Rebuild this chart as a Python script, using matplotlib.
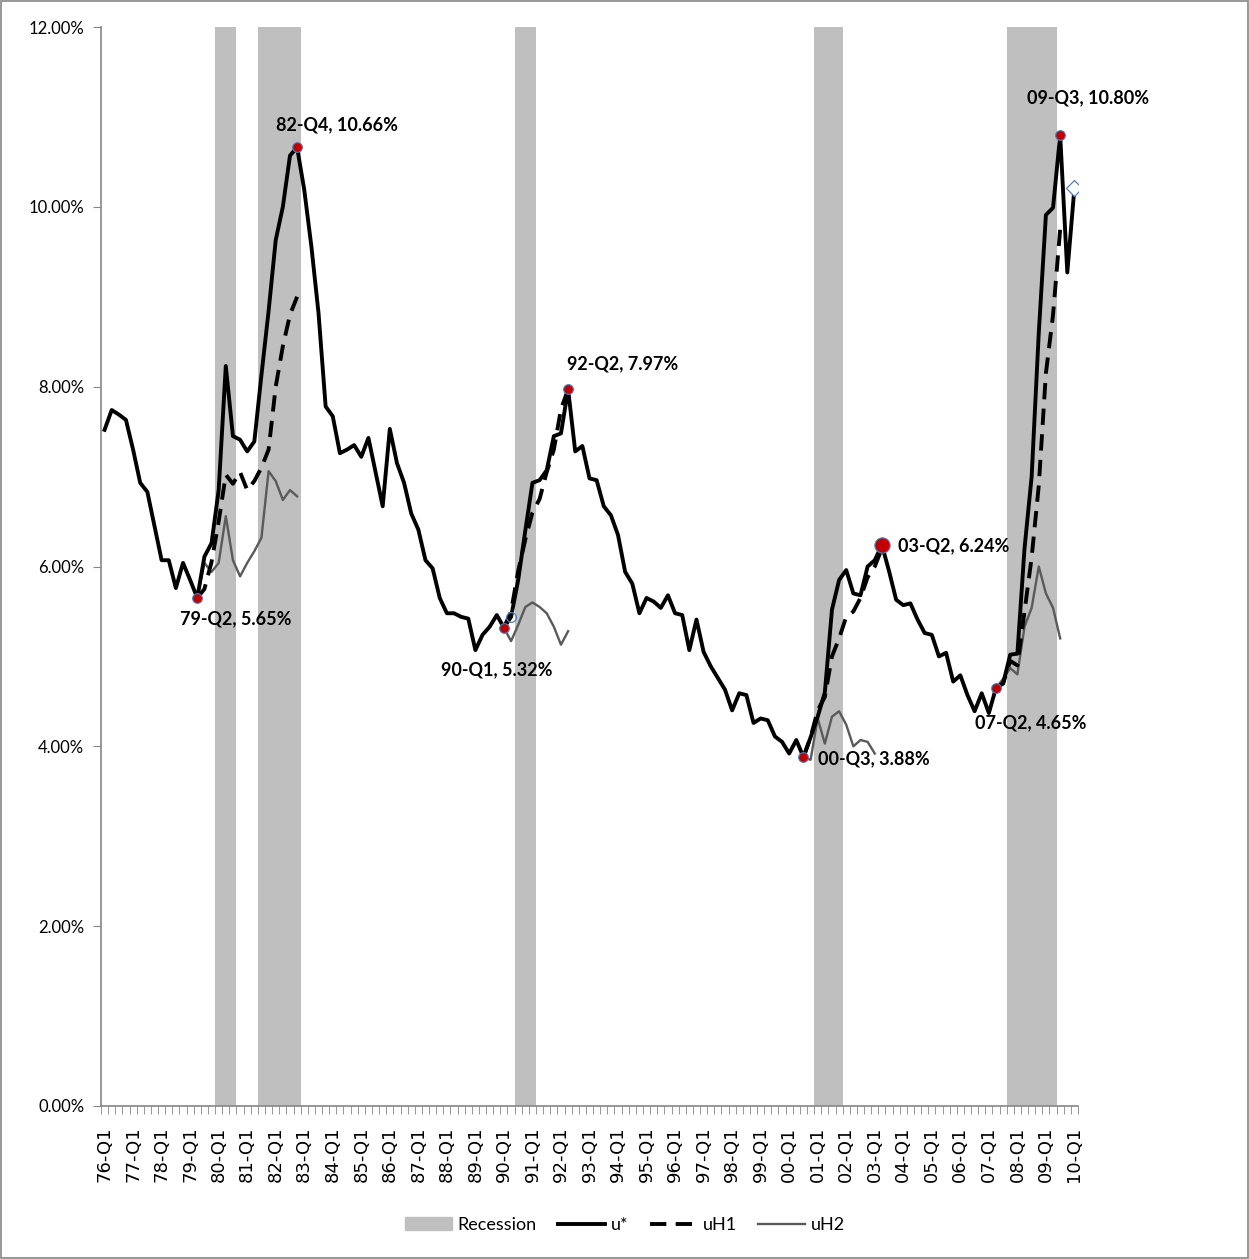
import numpy as np
import matplotlib
matplotlib.use('Agg')
import matplotlib.pyplot as plt
from matplotlib.patches import Patch, Rectangle
from matplotlib.lines import Line2D

# quarters 76-Q1 .. 10-Q1
years = list(range(1976, 2011))
quarters = [f"{y % 100:02d}-Q{q}" for y in years for q in range(1, 5)][:137]

u_star = [7.52, 7.74, 7.69, 7.63, 7.30, 6.93, 6.83, 6.45, 6.07, 6.07, 5.76, 6.04, 5.85, 5.65,
          6.11, 6.26, 6.85, 8.23, 7.45, 7.41, 7.28, 7.39, 8.13, 8.84, 9.63, 10.00, 10.57, 10.66,
          10.19, 9.56, 8.82, 7.78, 7.67, 7.26, 7.30, 7.35, 7.22, 7.43, 7.05, 6.67, 7.53, 7.15,
          6.93, 6.59, 6.41, 6.07, 5.98, 5.65, 5.48, 5.48, 5.44, 5.42, 5.07, 5.24, 5.33, 5.46,
          5.32, 5.44, 5.85, 6.40, 6.93, 6.96, 7.07, 7.45, 7.48, 7.97, 7.28, 7.34, 6.98, 6.96,
          6.67, 6.57, 6.35, 5.94, 5.81, 5.48, 5.65, 5.61, 5.54, 5.68, 5.48, 5.46, 5.07, 5.41,
          5.05, 4.89, 4.76, 4.63, 4.40, 4.59, 4.57, 4.26, 4.31, 4.29, 4.11, 4.05, 3.92, 4.07,
          3.88, 4.10, 4.33, 4.60, 5.52, 5.85, 5.96, 5.70, 5.68, 6.00, 6.07, 6.24, 5.95, 5.63,
          5.57, 5.59, 5.41, 5.26, 5.24, 5.00, 5.04, 4.72, 4.79, 4.57, 4.39, 4.59, 4.37, 4.65,
          4.70, 5.02, 5.03, 6.20, 7.00, 8.60, 9.91, 9.99, 10.80, 9.27, 10.21]

# uH1 / uH2 start at each trough
uh1_79 = [5.65, 5.75, 6.05, 6.50, 7.02, 6.92, 7.05, 6.85, 6.95, 7.10, 7.30, 8.00, 8.45, 8.80, 9.00]
uh1_90 = [5.32, 5.50, 5.95, 6.30, 6.60, 6.75, 7.05, 7.30, 7.75, 7.97]
uh1_00 = [3.88, 4.10, 4.40, 4.55, 5.00, 5.20, 5.44, 5.50, 5.65, 5.88, 6.00, 6.20]
uh1_07 = [4.65, 4.70, 4.95, 4.90, 5.50, 6.10, 6.90, 8.15, 8.80, 9.75]
uh2_79 = [5.65, 6.04, 5.94, 6.04, 6.56, 6.07, 5.89, 6.04, 6.17, 6.32, 7.06, 6.95, 6.74, 6.85, 6.78]
uh2_90 = [5.32, 5.17, 5.35, 5.55, 5.60, 5.55, 5.48, 5.33, 5.13, 5.28]
uh2_00 = [3.88, 3.85, 4.31, 4.03, 4.33, 4.39, 4.24, 4.00, 4.07, 4.05, 3.92]
uh2_07 = [4.65, 4.75, 4.87, 4.80, 5.33, 5.54, 6.00, 5.70, 5.54, 5.20]
uh1_segments = [("79-Q2", uh1_79), ("90-Q1", uh1_90), ("00-Q3", uh1_00), ("07-Q2", uh1_07)]
uh2_segments = [("79-Q2", uh2_79), ("90-Q1", uh2_90), ("00-Q3", uh2_00), ("07-Q2", uh2_07)]

recessions = [("80-Q1", "80-Q3"), ("81-Q3", "82-Q4"), ("90-Q3", "91-Q1"),
              ("01-Q1", "01-Q4"), ("07-Q4", "09-Q2")]

# labelled turning points: quarter, offset in pixels, alignment, big marker
turns = [("79-Q2", (38, -21), 'center', False), ("82-Q4", (40, 23), 'center', False),
         ("90-Q1", (-7, -42), 'center', False), ("92-Q2", (-1, 26), 'left', False),
         ("00-Q3", (15, -2), 'left', False), ("03-Q2", (16, -1), 'left', True),
         ("07-Q2", (35, -35), 'center', False), ("09-Q3", (-33, 37), 'left', False)]

idx = {q: i for i, q in enumerate(quarters)}
x = np.arange(len(quarters))
fam = ['Lato', 'DejaVu Sans']

fig = plt.figure(figsize=(12.49, 12.59), dpi=100)
ax = fig.add_axes([101 / 1249, 1 - 1106 / 1259, 977 / 1249, 1079 / 1259])

for a, b in recessions:
    ax.axvspan(idx[a] - 0.5, idx[b] + 0.5, color='#BFBFBF', lw=0, zorder=1)

for start, vals in uh2_segments:
    s = idx[start]
    ax.plot(x[s:s + len(vals)], vals, color='#5A5A5A', lw=1.7, zorder=2)
for start, vals in uh1_segments:
    s = idx[start]
    ax.plot(x[s:s + len(vals)], vals, color='black', lw=2.8, dashes=(4.2, 2.4), zorder=3)
ax.plot(x, u_star, color='black', lw=2.8, zorder=4)

for q, off, ha, big in turns:
    i = idx[q]
    ax.plot(i, u_star[i], 'o', ms=11 if big else 7, mfc='#C00000', mec='#4F81BD', mew=0.8, zorder=6)
    ax.annotate(f"{q}, {u_star[i]:.2f}%", (i, u_star[i]), xytext=off, textcoords='offset pixels',
                ha=ha, va='center', fontsize=13, fontweight='bold', family=fam, zorder=7)

ax.plot(idx["90-Q2"], u_star[idx["90-Q2"]], 'o', ms=7, mfc='none', mec='#4F81BD', mew=0.9, zorder=6)
ax.plot(x[-1], u_star[-1], 'D', ms=8, mfc='white', mec='#4F81BD', mew=0.9, zorder=6)

ax.set_xlim(-0.5, len(quarters) - 0.5)
ax.set_ylim(0, 12)
ax.set_yticks(np.arange(0, 12.1, 2))
ax.set_yticklabels([f"{v:.2f}%" for v in np.arange(0, 12.1, 2)], fontsize=12, family=fam)
ax.set_xticks(x[::4])
ax.set_xticklabels(quarters[::4], rotation=90, fontsize=13)
ax.set_xticks(np.arange(-0.5, len(quarters), 1), minor=True)
ax.tick_params(axis='x', which='major', length=0, pad=15)
ax.tick_params(axis='x', which='minor', length=6, color='#868686', direction='out')
ax.tick_params(axis='y', length=6, color='#868686', direction='out', pad=6)
for s in ['top', 'right']:
    ax.spines[s].set_visible(False)
for s in ['left', 'bottom']:
    ax.spines[s].set_color('#868686')
    ax.spines[s].set_linewidth(1.2)

handles = [Patch(color='#BFBFBF'), Line2D([], [], color='black', lw=2.8),
           Line2D([], [], color='black', lw=2.8, dashes=(4.2, 2.4)),
           Line2D([], [], color='#5A5A5A', lw=1.7)]
fig.legend(handles, ['Recession', 'u*', 'uH1', 'uH2'], loc='center', ncol=4,
           bbox_to_anchor=(625 / 1249, 1 - 1225 / 1259), frameon=False, handlelength=2.6,
           columnspacing=1.2, handletextpad=0.3, prop={'family': fam, 'size': 13})

fig.patches.append(Rectangle((0.0005, 0.0005), 0.999, 0.999, transform=fig.transFigure,
                             fill=False, edgecolor='#868686', lw=1.2))

fig.savefig('out.png', dpi=100)
